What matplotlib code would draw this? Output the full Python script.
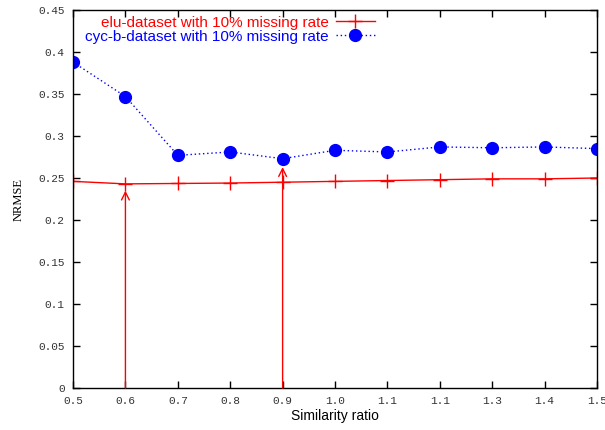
# Recreate NRMSE vs similarity ratio chart
import matplotlib
matplotlib.use('Agg')
import matplotlib.pyplot as plt

# Data
ratio = [0.5, 0.6, 0.7, 0.8, 0.9, 1.0, 1.1, 1.2, 1.3, 1.4, 1.5]
elu = [0.246, 0.243, 0.2435, 0.244, 0.245, 0.246, 0.247, 0.248, 0.249, 0.249, 0.250]
cyc = [0.388, 0.347, 0.277, 0.281, 0.273, 0.283, 0.281, 0.287, 0.286, 0.287, 0.285]
xtick_labels = ['0.5', '0.6', '0.7', '0.8', '0.9', '1.0', '1.1', '1.1', '1.3', '1.4', '1.5']
yticks = [0, 0.05, 0.1, 0.15, 0.2, 0.25, 0.3, 0.35, 0.4, 0.45]
ytick_labels = ['0', '0.05', '0.1', '0.15', '0.2', '0.25', '0.3', '0.35', '0.4', '0.45']
# arrows: (x, tip y)
arrows = [(0.6, 0.235), (0.9, 0.263)]

fig = plt.figure(figsize=(6.05, 4.30), dpi=100)
ax = fig.add_axes([0.1207, 0.0977, 0.8661, 0.879])

ax.plot(ratio, elu, color='red', linestyle='-', linewidth=1, marker='+',
        markersize=10, markeredgewidth=1, label='elu-dataset with 10% missing rate')
ax.plot(ratio, cyc, color='blue', linestyle=(0, (1, 2)), linewidth=1, marker='o',
        markersize=8.5, label='cyc-b-dataset with 10% missing rate')

for x, tip in arrows:
    ax.annotate('', xy=(x, tip), xytext=(x, 0),
                arrowprops=dict(arrowstyle='->', color='red', lw=1,
                                mutation_scale=14, shrinkA=0, shrinkB=0))

ax.set_xlim(0.5, 1.5)
ax.set_ylim(0, 0.45)
ax.set_xticks(ratio)
ax.set_xticklabels(xtick_labels, family='Liberation Mono', fontsize=8, color='#333333')
ax.set_yticks(yticks)
ax.set_yticklabels(ytick_labels, family='Liberation Mono', fontsize=8, color='#333333')
ax.tick_params(direction='in', top=True, right=True, length=5, width=1, pad=6)

for s in ax.spines.values():
    s.set_linewidth(1)

ax.set_xlabel('Similarity ratio', family='Liberation Sans', fontsize=10, labelpad=2)
ax.set_ylabel('NRMSE', family='Liberation Serif', fontsize=9, labelpad=10)

ax.legend(loc='upper left', bbox_to_anchor=(0.023, 0.985), markerfirst=False, frameon=False,
          prop={'family': 'Liberation Sans', 'size': 11}, labelcolor='linecolor',
          handlelength=2.6, handletextpad=0.45, labelspacing=0.0,
          borderpad=0, borderaxespad=0)

fig.savefig('out.png', dpi=100)
